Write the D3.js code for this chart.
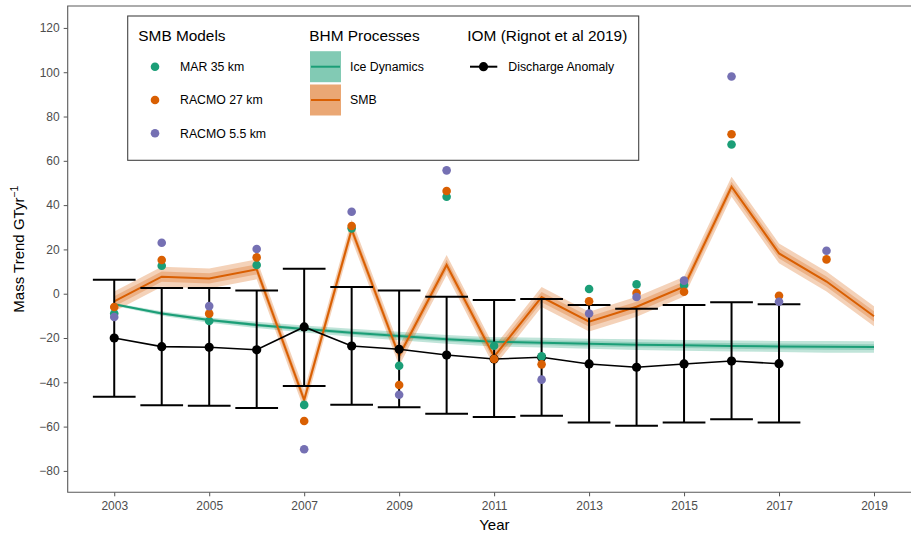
<!DOCTYPE html>
<html><head><meta charset="utf-8">
<script src="https://cdn.jsdelivr.net/npm/d3@7"></script>
<style>body{margin:0;background:#fff}svg{font-family:"Liberation Sans",Arial,sans-serif}</style>
</head><body><svg id="c" width="911" height="538"></svg>
<script>
const years = [2003,2004,2005,2006,2007,2008,2009,2010,2011,2012,2013,2014,2015,2016,2017,2018,2019];
const iomYears = [2003,2004,2005,2006,2007,2008,2009,2010,2011,2012,2013,2014,2015,2016,2017];
const iomValue = [-20.0,-23.9,-24.2,-25.3,-15.0,-23.6,-25.1,-27.7,-29.5,-28.7,-31.7,-33.2,-31.7,-30.4,-31.6];
const iomUpper = [6.3,2.6,2.6,1.4,11.3,3.0,1.4,-1.4,-2.8,-2.4,-5.1,-6.8,-5.1,-3.9,-4.8];
const iomLower = [-46.5,-50.4,-50.6,-51.6,-41.7,-50.1,-51.3,-54.2,-55.7,-55.1,-58.2,-59.6,-58.2,-56.7,-58.1];
const modelYears = [2003,2004,2005,2006,2007,2008,2009,2010,2011,2012,2013,2014,2015,2016,2017,2018];
const mar35 = [-8.9,12.6,-12.3,13.0,-50.2,29.5,-32.5,43.8,-23.5,-28.3,2.1,4.2,3.9,67.4,null,null];
const racmo27 = [-6.0,15.2,-9.0,16.4,-57.5,30.6,-41.2,46.4,-29.5,-31.9,-3.4,0.3,0.9,72.0,-0.9,15.5];
const racmo55 = [-10.5,23.0,-5.6,20.2,-70.2,37.0,-45.6,55.7,null,-38.8,-8.9,-1.5,5.9,98.1,-3.6,19.4];
const smbMean = [-3.5,7.7,6.9,11.0,-48.0,29.0,-28.0,13.0,-28.4,-1.5,-12.6,-5.9,3.2,48.3,18.2,5.5,-10.2];
const smbInner = [2.3,2.3,2.3,2.3,2.3,2.3,2.3,2.3,2.3,2.3,2.3,2.3,2.3,2.3,2.3,2.3,2.3];
const smbOuter = [4.5,4.5,4.5,4.5,4.5,4.5,4.5,4.5,4.5,4.5,4.5,4.5,4.5,4.5,4.5,4.5,4.5];
const iceMean = [-4.8,-8.9,-11.9,-14.1,-15.9,-17.6,-19.1,-20.6,-21.7,-22.1,-22.6,-23.0,-23.3,-23.6,-23.8,-24.0,-24.1];
const iceInner = [0.3,0.5,0.6,0.7,0.8,0.9,1.0,1.0,1.1,1.1,1.2,1.2,1.2,1.3,1.3,1.3,1.3];
const iceOuter = [0.6,1.0,1.2,1.4,1.6,1.8,1.9,2.0,2.1,2.2,2.3,2.4,2.4,2.5,2.5,2.6,2.6];
const yTicks = [-80,-60,-40,-20,0,20,40,60,80,100,120];
const xTicks = [2003,2005,2007,2009,2011,2013,2015,2017,2019];
const C = {mar:"#1b9e77", r27:"#d95f02", r55:"#7570b3"};

const svg = d3.select("#c");
const L = 67.7, R = 921, T = 6, B = 492.3;
const x = d3.scaleLinear().domain([2002.02, 2019.99]).range([L, R]);
const y = d3.scaleLinear().domain([-89.66, 129.9]).range([B, T]);

// axes
const ax = svg.append("g").attr("transform", `translate(${L},0)`)
  .call(d3.axisLeft(y).tickValues(yTicks).tickSize(4).tickPadding(4).tickFormat(d3.format("d")));
const bx = svg.append("g").attr("transform", `translate(0,${B})`)
  .call(d3.axisBottom(x).tickValues(xTicks).tickSize(4).tickPadding(5).tickFormat(d3.format("d")));
[ax, bx].forEach(g => {
  g.select(".domain").remove();
  g.selectAll(".tick line").attr("stroke", "#555").attr("stroke-width", 1);
  g.selectAll(".tick text").attr("fill", "#4d4d4d").style("font-size", "12px").style("font-family", '"Liberation Sans",Arial,sans-serif');
});
svg.append("path").attr("d", `M${R + 5},${T}H${L}V${B}H${R + 5}`)
  .attr("fill", "none").attr("stroke", "#5a5a5a").attr("stroke-width", 1.1);

// ribbons
const plot = svg.append("g");
function ribbon(mean, half, color, op) {
  const a = d3.area().x((d, i) => x(years[i])).y0((d, i) => y(mean[i] - half[i])).y1((d, i) => y(mean[i] + half[i]));
  plot.append("path").attr("d", a(mean)).attr("fill", color).attr("fill-opacity", op);
}
ribbon(iceMean, iceOuter, C.mar, 0.28);
ribbon(iceMean, iceInner, C.mar, 0.28);
ribbon(smbMean, smbOuter, C.r27, 0.28);
ribbon(smbMean, smbInner, C.r27, 0.28);
const ln = d3.line().x((d, i) => x(years[i])).y(d => y(d));
plot.append("path").attr("d", ln(iceMean)).attr("fill", "none").attr("stroke", C.mar).attr("stroke-width", 2);
plot.append("path").attr("d", ln(smbMean)).attr("fill", "none").attr("stroke", C.r27).attr("stroke-width", 2);

// error bars
const eb = plot.append("g").attr("stroke", "#000").attr("stroke-width", 2).attr("fill", "none");
iomYears.forEach((yr, i) => {
  const w = x(yr + 0.45) - x(yr);
  eb.append("path").attr("d",
    `M${x(yr) - w},${y(iomUpper[i])}H${x(yr) + w}M${x(yr)},${y(iomUpper[i])}V${y(iomLower[i])}M${x(yr) - w},${y(iomLower[i])}H${x(yr) + w}`);
});
const ln2 = d3.line().x((d, i) => x(iomYears[i])).y(d => y(d));
plot.append("path").attr("d", ln2(iomValue)).attr("fill", "none").attr("stroke", "#000").attr("stroke-width", 1.6);
plot.selectAll("circle.iom").data(iomValue).join("circle").attr("class", "iom")
  .attr("cx", (d, i) => x(iomYears[i])).attr("cy", d => y(d)).attr("r", 4.6).attr("fill", "#000");

// model points
[[mar35, C.mar], [racmo27, C.r27], [racmo55, C.r55]].forEach(([arr, col]) => {
  plot.append("g").selectAll("circle").data(arr.map((v, i) => [modelYears[i], v]).filter(d => d[1] !== null))
    .join("circle").attr("cx", d => x(d[0])).attr("cy", d => y(d[1])).attr("r", 4.3).attr("fill", col);
});

// axis titles
svg.append("text").attr("x", (L + R) / 2).attr("y", 530).attr("text-anchor", "middle")
  .style("font-size", "15px").attr("fill", "#000").text("Year");
const yt = svg.append("text").attr("transform", `translate(24,${(T + B) / 2}) rotate(-90)`)
  .attr("text-anchor", "middle").style("font-size", "15px").attr("fill", "#000");
yt.append("tspan").text("Mass Trend GTyr");
yt.append("tspan").attr("dy", -6).style("font-size", "10.5px").text("\u22121");

// legend
const lg = svg.append("g");
lg.append("rect").attr("x", 127.7).attr("y", 16).attr("width", 511).attr("height", 144.3)
  .attr("fill", "#fff").attr("stroke", "#444").attr("stroke-width", 1.1);
const tt = (tx, ty, s) => lg.append("text").attr("x", tx).attr("y", ty).style("font-size", "15.4px").attr("fill", "#000").text(s);
tt(138.3, 40.5, "SMB Models"); tt(309.3, 40.5, "BHM Processes"); tt(467.3, 40.5, "IOM (Rignot et al 2019)");
const lt = (tx, ty, s) => lg.append("text").attr("x", tx).attr("y", ty + 4.4).style("font-size", "12.3px").attr("fill", "#000").text(s);
const rows = [66.7, 100, 133.3];
[["MAR 35 km", C.mar], ["RACMO 27 km", C.r27], ["RACMO 5.5 km", C.r55]].forEach(([s, c], i) => {
  lg.append("circle").attr("cx", 155).attr("cy", rows[i]).attr("r", 4.3).attr("fill", c);
  lt(180, rows[i], s);
});
[["Ice Dynamics", C.mar], ["SMB", C.r27]].forEach(([s, c], i) => {
  lg.append("rect").attr("x", 310).attr("y", rows[i] - 15.5).attr("width", 31).attr("height", 31).attr("fill", c).attr("fill-opacity", 0.55);
  lg.append("line").attr("x1", 311).attr("x2", 340).attr("y1", rows[i]).attr("y2", rows[i]).attr("stroke", c).attr("stroke-width", 2);
  lt(350, rows[i], s);
});
lg.append("line").attr("x1", 470).attr("x2", 497.3).attr("y1", rows[0]).attr("y2", rows[0]).attr("stroke", "#000").attr("stroke-width", 2);
lg.append("circle").attr("cx", 483.5).attr("cy", rows[0]).attr("r", 4.6).attr("fill", "#000");
lt(508.3, rows[0], "Discharge Anomaly");
</script></body></html>
